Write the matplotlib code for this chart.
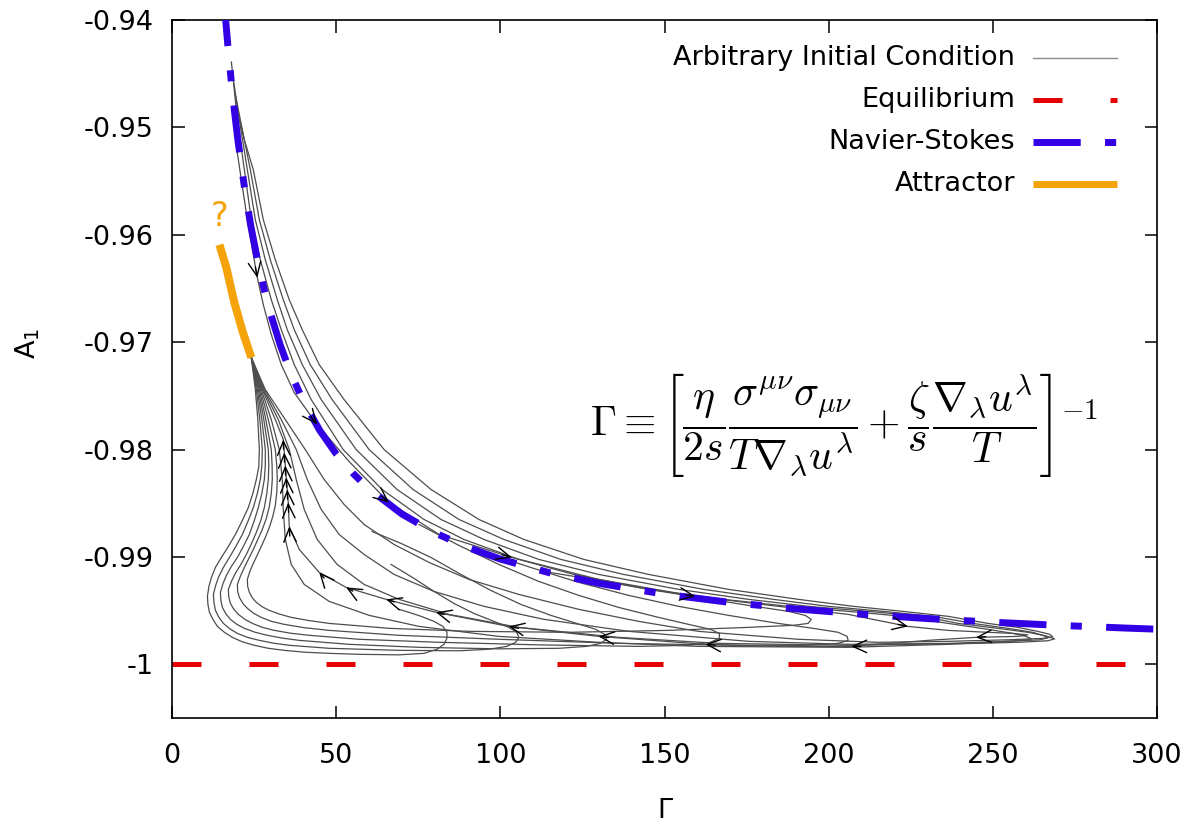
import matplotlib
matplotlib.use('Agg')
import matplotlib.pyplot as plt

plt.rcParams['font.family'] = ['DejaVu Sans']

# ---------------- data ----------------
x_ticks = [0, 50, 100, 150, 200, 250, 300]
y_ticks = [-1.0, -0.99, -0.98, -0.97, -0.96, -0.95, -0.94]
y_tick_labels = ['-1', '-0.99', '-0.98', '-0.97', '-0.96', '-0.95', '-0.94']

equil_G = [0, 300]
equil_A = [-1.0, -1.0]

ns_G = [15, 16, 17, 18, 19, 20, 22, 24, 26, 28, 30, 33, 36, 40, 45, 50, 55, 60, 70, 80,
        90, 100, 115, 130, 150, 170, 190, 210, 230, 250, 270, 290, 300]
ns_A = [-0.93467, -0.93875, -0.94235, -0.94556, -0.94842, -0.95100, -0.95545, -0.95917,
        -0.96231, -0.96500, -0.96733, -0.97030, -0.97278, -0.97550, -0.97822, -0.98040,
        -0.98218, -0.98367, -0.98600, -0.98775, -0.98911, -0.99020, -0.99148, -0.99246,
        -0.99347, -0.99424, -0.99484, -0.99533, -0.99574, -0.99608, -0.99637, -0.99662, -0.99673]

attr_G = [14.44, 16.5, 19.0, 21.5, 24.16]
attr_A = [-0.96093, -0.96300, -0.96633, -0.96900, -0.97144]

t0_G = [24.16, 25.38, 26.14, 26.60, 26.44, 25.68, 24.62, 23.25, 21.43, 19.30, 17.17, 15.05, 13.22,
        12.01, 11.25, 10.79, 10.94, 11.40, 12.46, 13.83, 15.96, 18.39, 21.43, 25.08, 29.33, 34.19,
        40.27, 47.87, 56.99, 69.15, 76.75, 80.70, 82.83, 83.74, 83.74, 82.52, 79.79, 75.84, 72.19,
        69.15]
t0_A = [-0.97144, -0.97442, -0.97721, -0.98000, -0.98158, -0.98279, -0.98409, -0.98540, -0.98660,
        -0.98791, -0.98902, -0.99005, -0.99098, -0.99191, -0.99274, -0.99367, -0.99442, -0.99516,
        -0.99581, -0.99647, -0.99702, -0.99749, -0.99791, -0.99823, -0.99851, -0.99870, -0.99887,
        -0.99898, -0.99907, -0.99912, -0.99898, -0.99860, -0.99814, -0.99758, -0.99702, -0.99647,
        -0.99600, -0.99553, -0.99516, -0.99488]

t1_G = [24.16, 25.68, 26.75, 27.51, 27.36, 26.90, 25.99, 24.77, 23.25, 21.43, 19.45, 17.48, 15.65,
        14.13, 13.22, 12.61, 12.77, 13.22, 14.29, 15.65, 17.63, 19.91, 22.95, 26.60, 30.85, 35.71,
        47.87, 69.15, 87.39, 96.50, 101.98, 104.71, 105.62, 105.02, 102.58, 98.02, 91.95, 85.87,
        79.79, 73.71, 66.72]
t1_A = [-0.97144, -0.97442, -0.97721, -0.98000, -0.98149, -0.98279, -0.98409, -0.98540, -0.98660,
        -0.98791, -0.98902, -0.99005, -0.99098, -0.99191, -0.99274, -0.99349, -0.99423, -0.99498,
        -0.99563, -0.99619, -0.99670, -0.99712, -0.99749, -0.99777, -0.99803, -0.99823, -0.99851,
        -0.99870, -0.99874, -0.99860, -0.99833, -0.99795, -0.99749, -0.99702, -0.99656, -0.99600,
        -0.99526, -0.99433, -0.99321, -0.99200, -0.99070]

t2_G = [24.16, 25.99, 27.36, 28.42, 28.42, 28.12, 27.36, 26.29, 25.08, 23.56, 21.73, 19.91, 18.09,
        16.57, 15.50, 14.74, 14.89, 15.35, 16.41, 17.78, 19.76, 22.04, 25.38, 29.03, 33.59, 38.75,
        53.95, 75.23, 99.54, 117.78, 126.29, 130.55, 132.37, 131.76, 129.03, 123.25, 115.35, 106.23,
        97.11, 88.00, 78.88, 69.76, 60.94]
t2_A = [-0.97144, -0.97442, -0.97721, -0.98000, -0.98149, -0.98279, -0.98409, -0.98540, -0.98660,
        -0.98791, -0.98902, -0.99005, -0.99088, -0.99172, -0.99251, -0.99330, -0.99405, -0.99470,
        -0.99530, -0.99581, -0.99628, -0.99665, -0.99702, -0.99730, -0.99756, -0.99777, -0.99814,
        -0.99842, -0.99856, -0.99851, -0.99833, -0.99805, -0.99767, -0.99721, -0.99674, -0.99619,
        -0.99544, -0.99442, -0.99312, -0.99163, -0.99005, -0.98874, -0.98763]

t3_G = [24.16, 26.29, 27.96, 29.33, 29.48, 29.33, 28.88, 28.12, 27.05, 25.68, 24.16, 22.64, 20.97,
        19.30, 18.09, 17.17, 17.26, 17.78, 18.84, 20.21, 22.19, 24.47, 27.51, 31.16, 36.02, 41.79,
        56.99, 81.31, 111.70, 142.10, 157.29, 163.98, 166.72, 166.72, 163.98, 157.29, 148.18, 136.02,
        123.86, 111.70, 99.54, 87.39, 75.23]
t3_A = [-0.97144, -0.97442, -0.97721, -0.98000, -0.98149, -0.98279, -0.98409, -0.98540, -0.98660,
        -0.98772, -0.98879, -0.98977, -0.99070, -0.99153, -0.99228, -0.99302, -0.99367, -0.99433,
        -0.99488, -0.99535, -0.99581, -0.99619, -0.99656, -0.99684, -0.99710, -0.99730, -0.99767,
        -0.99795, -0.99819, -0.99833, -0.99823, -0.99795, -0.99758, -0.99712, -0.99674, -0.99628,
        -0.99563, -0.99470, -0.99358, -0.99228, -0.99070, -0.98893, -0.98698]

t4_G = [24.16, 26.60, 28.57, 30.24, 30.49, 30.55, 30.24, 29.64, 28.72, 27.51, 26.14, 24.77, 23.40,
        22.04, 20.82, 19.91, 20.00, 20.52, 21.58, 22.95, 24.92, 27.20, 30.24, 34.19, 40.27, 47.87,
        69.15, 99.54, 136.02, 172.49, 193.77, 202.89, 205.93, 205.62, 202.89, 195.29, 184.65, 169.45,
        154.26, 139.06, 123.86, 110.18, 98.02]
t4_A = [-0.97144, -0.97442, -0.97721, -0.98000, -0.98149, -0.98279, -0.98409, -0.98530, -0.98642,
        -0.98744, -0.98837, -0.98930, -0.99014, -0.99098, -0.99181, -0.99256, -0.99321, -0.99377,
        -0.99433, -0.99479, -0.99526, -0.99563, -0.99600, -0.99628, -0.99659, -0.99684, -0.99730,
        -0.99767, -0.99805, -0.99823, -0.99823, -0.99805, -0.99777, -0.99740, -0.99702, -0.99665,
        -0.99619, -0.99544, -0.99460, -0.99358, -0.99237, -0.99107, -0.98986]

t5_G = [24.16, 26.90, 29.33, 31.46, 31.91, 32.07, 31.91, 31.46, 30.70, 29.64, 28.42, 27.20, 25.99,
        24.77, 23.71, 22.95, 23.04, 23.56, 24.47, 25.68, 27.51, 29.64, 32.67, 36.32, 41.79, 47.87,
        66.11, 90.43, 120.82, 151.22, 175.53, 189.21, 193.77, 194.68, 192.86, 187.69, 175.53, 160.33,
        145.14, 129.94, 113.22]
t5_A = [-0.97144, -0.97442, -0.97721, -0.98000, -0.98149, -0.98279, -0.98400, -0.98521, -0.98623,
        -0.98726, -0.98819, -0.98902, -0.98981, -0.99060, -0.99135, -0.99209, -0.99274, -0.99330,
        -0.99381, -0.99423, -0.99465, -0.99498, -0.99532, -0.99563, -0.99593, -0.99619, -0.99665,
        -0.99693, -0.99702, -0.99684, -0.99656, -0.99637, -0.99619, -0.99581, -0.99544, -0.99507,
        -0.99451, -0.99377, -0.99302, -0.99219, -0.99135]

t6_G = [18.09, 19.91, 22.04, 24.16, 26.90, 30.24, 33.28, 37.23, 42.40, 52.13, 63.98, 76.75, 88.91,
        105.62, 122.34, 145.14, 167.93, 187.69, 205.93, 222.64, 236.32, 248.48, 256.08, 260.03,
        261.85, 259.12, 251.52, 236.32, 205.93, 160.33, 129.94, 99.54, 75.23, 60.03, 47.87, 40.27,
        36.32, 34.50, 33.89, 33.59, 32.67, 30.24, 27.20, 24.16]
t6_A = [-0.94391, -0.94930, -0.95395, -0.95860, -0.96233, -0.96605, -0.96884, -0.97209, -0.97535,
        -0.98000, -0.98372, -0.98651, -0.98837, -0.99023, -0.99163, -0.99302, -0.99395, -0.99460,
        -0.99507, -0.99553, -0.99619, -0.99674, -0.99712, -0.99740, -0.99763, -0.99777, -0.99791,
        -0.99814, -0.99842, -0.99833, -0.99795, -0.99740, -0.99647, -0.99544, -0.99414, -0.99256,
        -0.99070, -0.98837, -0.98558, -0.98279, -0.98000, -0.97721, -0.97442, -0.97144]

t7_G = [19.30, 21.12, 22.95, 24.77, 25.99, 27.81, 30.24, 33.28, 37.23, 44.22, 53.95, 66.11, 81.31,
        103.50, 129.94, 159.42, 184.65, 205.93, 224.16, 236.32, 248.48, 256.08, 260.64, 257.60,
        244.83, 230.24, 206.84, 184.65, 162.46, 129.94, 102.58, 80.40, 65.20, 53.04, 44.83, 38.75,
        35.71, 35.41, 34.80, 34.19, 33.89, 31.46, 27.51, 24.16]
t7_A = [-0.95116, -0.95488, -0.95860, -0.96186, -0.96400, -0.96651, -0.96930, -0.97209, -0.97470,
        -0.97767, -0.98112, -0.98493, -0.98791, -0.99005, -0.99209, -0.99367, -0.99460, -0.99535,
        -0.99647, -0.99684, -0.99702, -0.99712, -0.99726, -0.99740, -0.99749, -0.99777, -0.99833,
        -0.99833, -0.99814, -0.99740, -0.99647, -0.99516, -0.99395, -0.99284, -0.99144, -0.98930,
        -0.98716, -0.98493, -0.98260, -0.98028, -0.97907, -0.97721, -0.97442, -0.97144]

t8_G = [18.69, 20.52, 22.95, 25.38, 28.42, 32.07, 35.11, 39.67, 45.44, 56.08, 68.54, 81.91, 94.98,
        111.70, 129.94, 154.26, 175.53, 193.77, 212.01, 228.72, 239.36, 251.52, 260.64, 266.11,
        268.84, 266.72, 257.60, 245.44, 205.93, 166.41, 136.02, 105.62, 84.35, 69.15, 58.51, 50.30,
        44.22, 40.27, 37.84, 35.71, 32.37, 27.81, 24.16]
t8_A = [-0.94558, -0.94930, -0.95395, -0.95860, -0.96233, -0.96605, -0.96884, -0.97209, -0.97535,
        -0.98000, -0.98372, -0.98651, -0.98837, -0.99023, -0.99163, -0.99302, -0.99395, -0.99460,
        -0.99507, -0.99553, -0.99619, -0.99665, -0.99702, -0.99735, -0.99763, -0.99781, -0.99795,
        -0.99805, -0.99823, -0.99805, -0.99749, -0.99656, -0.99535, -0.99395, -0.99256, -0.99070,
        -0.98837, -0.98558, -0.98279, -0.98000, -0.97721, -0.97442, -0.97144]

t9_G = [19.30, 20.82, 23.86, 26.60, 29.94, 33.89, 37.23, 42.10, 48.78, 60.03, 73.40, 87.39, 101.06,
        118.39, 137.54, 161.85, 183.13, 199.85, 216.57, 231.76, 243.92, 254.56, 262.16, 265.20,
        266.72, 264.29, 254.56, 236.32, 205.93, 175.53, 139.06, 113.22, 94.98, 79.79, 67.63, 58.51,
        50.91, 45.44, 41.19, 37.84, 33.28, 28.12, 24.16]
t9_A = [-0.94698, -0.94930, -0.95395, -0.95860, -0.96233, -0.96605, -0.96884, -0.97209, -0.97535,
        -0.98000, -0.98372, -0.98651, -0.98837, -0.99023, -0.99163, -0.99302, -0.99395, -0.99460,
        -0.99507, -0.99553, -0.99619, -0.99665, -0.99702, -0.99730, -0.99753, -0.99772, -0.99786,
        -0.99805, -0.99814, -0.99786, -0.99693, -0.99581, -0.99460, -0.99321, -0.99163, -0.98977,
        -0.98791, -0.98558, -0.98279, -0.98000, -0.97721, -0.97442, -0.97144]

t10_G = [19.91, 22.04, 24.77, 27.81, 31.46, 35.71, 39.67, 44.83, 52.43, 64.59, 78.88, 93.47, 107.14,
         125.38, 145.14, 169.45, 190.73, 207.45, 222.64, 236.32, 248.48, 257.60, 263.68, 267.33,
         268.24, 265.50, 254.56, 236.32, 215.05, 190.73, 160.33, 142.10, 123.86, 105.62, 90.43,
         78.27, 67.63, 58.51, 52.43, 46.35, 40.58, 34.50, 28.42, 24.16]
t10_A = [-0.94837, -0.95116, -0.95395, -0.95860, -0.96233, -0.96605, -0.96884, -0.97209, -0.97535,
         -0.98000, -0.98372, -0.98651, -0.98837, -0.99023, -0.99163, -0.99302, -0.99395, -0.99460,
         -0.99507, -0.99553, -0.99619, -0.99656, -0.99693, -0.99721, -0.99744, -0.99758, -0.99772,
         -0.99786, -0.99795, -0.99767, -0.99693, -0.99600, -0.99488, -0.99349, -0.99209, -0.99051,
         -0.98884, -0.98698, -0.98512, -0.98279, -0.98000, -0.97721, -0.97442, -0.97144]

arrow_G = [25.99, 44.22, 66.11, 103.50, 159.42, 224.16, 244.83, 206.84, 162.46, 129.94, 102.58,
           80.40, 65.20, 53.04, 44.83, 35.71, 35.41, 35.11, 34.80, 34.50, 34.19, 33.89]
arrow_A = [-0.96400, -0.97767, -0.98493, -0.99005, -0.99367, -0.99647, -0.99749, -0.99833,
           -0.99814, -0.99740, -0.99647, -0.99516, -0.99395, -0.99284, -0.99144, -0.98716,
           -0.98493, -0.98372, -0.98260, -0.98149, -0.98028, -0.97907]
arrow_dG = [0.6, 2.0, 2.5, 3.0, 3.0, 3.0, -3.0, -3.0, -3.0, -3.0, -3.0, -2.5, -2.5, -2.0, -1.5,
            -0.15, -0.1, -0.1, -0.1, -0.1, -0.1, -0.1]
arrow_dA = [-0.0010, -0.00077, -0.00062, -0.00026, -0.00014, -0.00018, -0.00006, 0.0, 0.00007,
            0.0001, 0.00018, 0.0002, 0.00023, 0.00034, 0.00053, 0.0009, 0.0009, 0.0009, 0.0009,
            0.0009, 0.0009, 0.0009]

legend_labels = ['Arbitrary Initial Condition', 'Equilibrium', 'Navier-Stokes', 'Attractor']

trajectories = [(t0_G, t0_A), (t1_G, t1_A), (t2_G, t2_A), (t3_G, t3_A), (t4_G, t4_A),
                (t5_G, t5_A), (t6_G, t6_A), (t7_G, t7_A), (t8_G, t8_A), (t9_G, t9_A),
                (t10_G, t10_A)]

# ---------------- style ----------------
GRAY = '#4d4d4d'
RED = '#e60000'
BLUE = '#3300e6'
ORANGE = '#f5a30a'
FS = 19.5

fig = plt.figure(figsize=(11.9, 8.36), dpi=100)
ax = fig.add_axes([0.14454, 0.14115, 0.82773, 0.83493])

ax.plot(equil_G, equil_A, color=RED, lw=3.6, dashes=(5.8, 9.6), zorder=2)
for g, a in trajectories:
    ax.plot(g, a, color=GRAY, lw=0.9, zorder=3, solid_joinstyle='round')
ax.plot(ns_G, ns_A, color=BLUE, lw=5.0, dashes=(6.8, 3.5, 1.6, 3.5), zorder=4)
for g, a, dg, da in zip(arrow_G, arrow_A, arrow_dG, arrow_dA):
    ax.annotate('', xy=(g, a), xytext=(g - dg, a - da),
                arrowprops=dict(arrowstyle='->,head_length=1.0,head_width=0.45', color='black',
                                lw=1.0, shrinkA=0, shrinkB=0, mutation_scale=10), zorder=5)
ax.plot(attr_G, attr_A, color=ORANGE, lw=5.8, solid_capstyle='butt', zorder=6)
ax.text(14.5, -0.9583, '?', color=ORANGE, fontsize=24, ha='center', va='center', zorder=6)

ax.set_xlim(0, 300)
ax.set_ylim(-1.005, -0.94)
ax.set_xticks(x_ticks)
ax.set_yticks(y_ticks)
ax.set_yticklabels(y_tick_labels)
ax.tick_params(direction='in', length=9, width=1.1, top=True, right=True, labelsize=FS)
ax.tick_params(axis='x', pad=18)
ax.tick_params(axis='y', pad=13.5)
for s in ax.spines.values():
    s.set_linewidth(1.2)

ax.set_xlabel('Γ', fontsize=FS)
ax.xaxis.set_label_coords(0.5, -0.114)
ax.set_ylabel(r'A$_{\mathrm{1}}$', fontsize=FS)
ax.yaxis.label.set_va('center')
ax.yaxis.set_label_coords(-0.146, 0.537)

# formula
ax.text(0.4245, 0.42,
        r'$\Gamma \equiv \left[\dfrac{\eta}{2s}\dfrac{\sigma^{\mu\nu}\sigma_{\mu\nu}}{T\nabla_\lambda u^\lambda}'
        r'+\dfrac{\zeta}{s}\dfrac{\nabla_\lambda u^\lambda}{T}\right]^{-1}$',
        transform=ax.transAxes, fontsize=30, math_fontfamily='cm', ha='left', va='center')

# legend (key to the right of right-aligned text)
rows_y = [0.9456, 0.8854, 0.8252, 0.7650]
xt, x0, x1 = 0.8558, 0.8741, 0.9594
styles = [dict(color='#8c8c8c', lw=1.0),
          dict(color=RED, lw=3.6, dashes=(5.8, 9.6)),
          dict(color=BLUE, lw=5.0, dashes=(6.8, 3.5, 1.6, 3.5)),
          dict(color=ORANGE, lw=5.0, solid_capstyle='butt')]
for y, lab, st in zip(rows_y, legend_labels, styles):
    ax.text(xt, y, lab, transform=ax.transAxes, fontsize=FS, ha='right', va='center')
    ax.plot([x0, x1], [y, y], transform=ax.transAxes, **st)

fig.savefig('out.png', dpi=100)
